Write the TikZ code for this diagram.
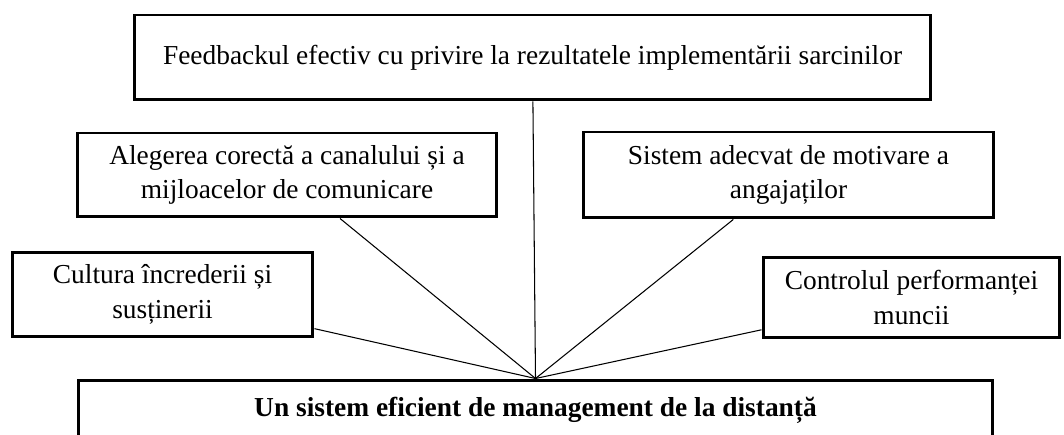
\documentclass[tikz,border=0pt]{standalone}
\usepackage{fontspec}
\setmainfont{Liberation Serif}
\usetikzlibrary{positioning}

\begin{document}
\begin{tikzpicture}[-, x=0.02cm, y=-0.02cm, main node/.style={rectangle, draw, line width=1.7pt, inner sep=0pt, align=center, font=\fontsize{15.6}{19.6}\selectfont}, base node/.style={main node, font=\fontsize{15.6}{19.6}\selectfont\bfseries}, link/.style={line width=0.6pt}]
\useasboundingbox (0,0) rectangle (1064,435);
\node[main node, minimum width=15.94cm, minimum height=1.7cm] (1) at (532.5,57.5) {Feedbackul efectiv cu privire la rezultatele implementării sarcinilor};
\node[main node, minimum width=8.4cm, minimum height=1.68cm] (2) at (287,175) {Alegerea corectă a canalului și a\\mijloacelor de comunicare};
\node[main node, minimum width=8.22cm, minimum height=1.72cm] (3) at (788.5,175) {Sistem adecvat de motivare a\\angajaților};
\node[main node, minimum width=6.02cm, minimum height=1.7cm] (4) at (162.5,294.5) {Cultura încrederii și\\susținerii};
\node[main node, minimum width=5.94cm, minimum height=1.62cm] (5) at (911.5,297.5) {Controlul performanței\\muncii};
\node[base node, minimum width=18.3cm, minimum height=1.2cm] (6) at (535.5,410) {Un sistem eficient de management de la distanță};
\path[link]
(1) edge (6.north)
(2) edge (6.north)
(3) edge (6.north)
(4) edge (6.north)
(5) edge (6.north);
\end{tikzpicture}
\end{document}
